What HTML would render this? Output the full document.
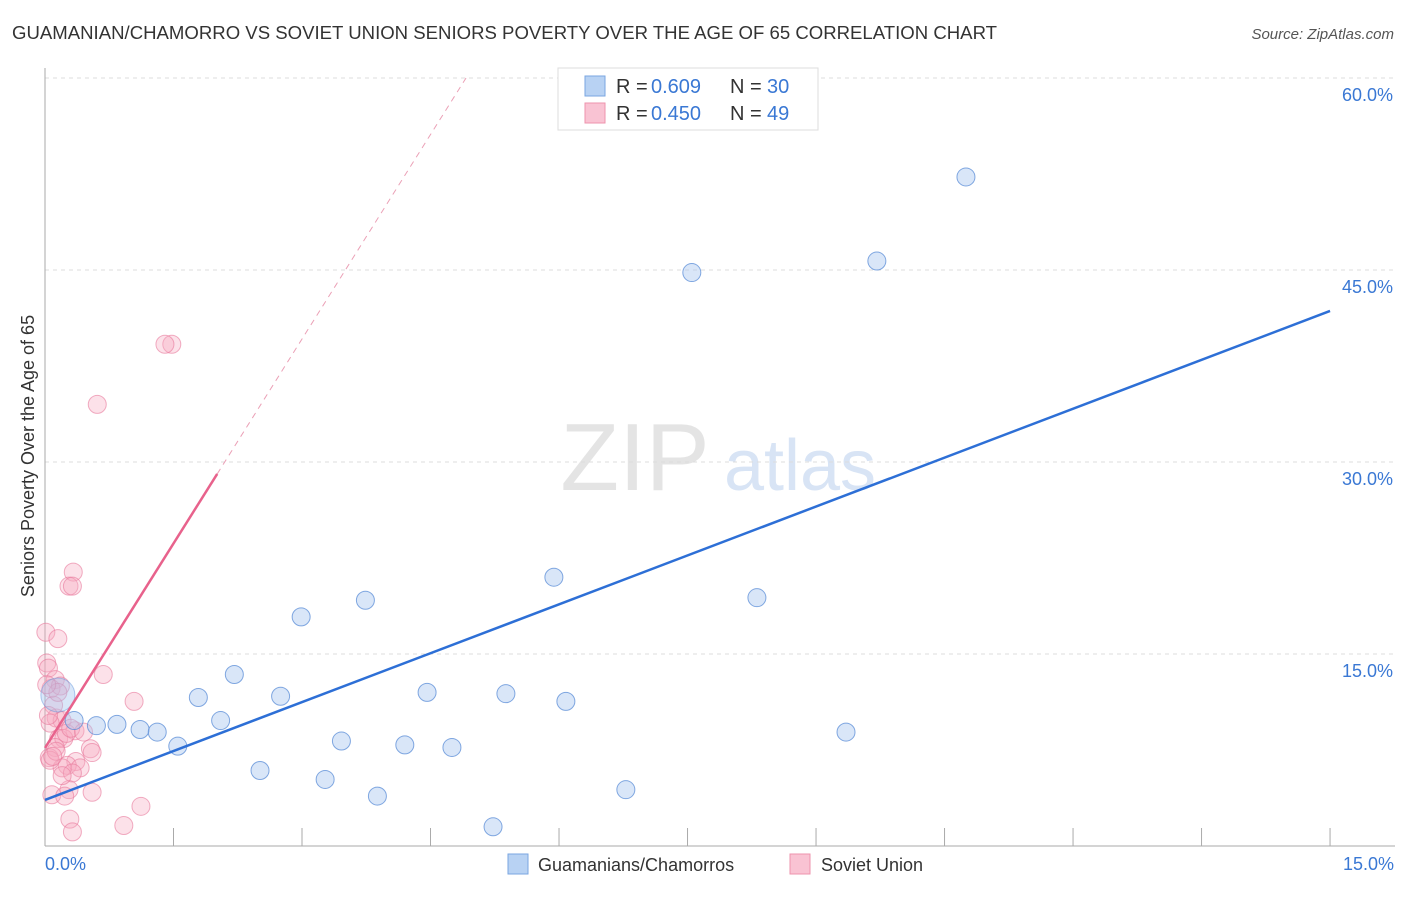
<!DOCTYPE html>
<html><head><meta charset="utf-8"><style>
body{margin:0;background:#fff;font-family:"Liberation Sans",sans-serif}
svg text{font-family:"Liberation Sans",sans-serif}
</style></head><body>
<svg id="c" width="1406" height="892">
<text x="12" y="39" font-size="18" fill="#333" textLength="985" lengthAdjust="spacingAndGlyphs">GUAMANIAN/CHAMORRO VS SOVIET UNION SENIORS POVERTY OVER THE AGE OF 65 CORRELATION CHART</text>
<text x="1394" y="39" font-size="15" fill="#555" font-style="italic" text-anchor="end">Source: ZipAtlas.com</text>
<text x="635" y="490" font-size="96" fill="#e4e4e4" font-family="Liberation Serif" text-anchor="middle">ZIP</text>
<text x="800" y="490" font-size="72" fill="#d8e4f5" text-anchor="middle">atlas</text>
<g id="grid"></g><g id="axes"></g><g id="pts"></g><g id="lines"></g>
<text x="34" y="456" font-size="18" fill="#333" text-anchor="middle" transform="rotate(-90 34 456)">Seniors Poverty Over the Age of 65</text>
<text x="45" y="870" font-size="18" fill="#3a78d4">0.0%</text>
<text x="1394" y="870" font-size="18" fill="#3a78d4" text-anchor="end">15.0%</text>
<g>
<rect x="558" y="68" width="260" height="62" fill="#fff" stroke="#ddd"/>
<rect x="585" y="76" width="20" height="20" fill="#b8d2f3" stroke="#7aa6e0"/>
<rect x="585" y="103" width="20" height="20" fill="#f9c3d3" stroke="#ee93ad"/>
<text x="616" y="93" font-size="20" fill="#333">R =</text><text x="651" y="93" font-size="20" fill="#3a78d4">0.609</text>
<text x="730" y="93" font-size="20" fill="#333">N =</text><text x="767" y="93" font-size="20" fill="#3a78d4">30</text>
<text x="616" y="120" font-size="20" fill="#333">R =</text><text x="651" y="120" font-size="20" fill="#3a78d4">0.450</text>
<text x="730" y="120" font-size="20" fill="#333">N =</text><text x="767" y="120" font-size="20" fill="#3a78d4">49</text>
</g>
<g>
<rect x="508" y="854" width="20" height="20" fill="#b8d2f3" stroke="#7aa6e0"/>
<text x="538" y="871" font-size="18" fill="#333">Guamanians/Chamorros</text>
<rect x="790" y="854" width="20" height="20" fill="#f9c3d3" stroke="#ee93ad"/>
<text x="821" y="871" font-size="18" fill="#333">Soviet Union</text>
</g>
</svg>
<script>
const yTicks=[15,30,45,60];
const yTickLabels=["15.0%","30.0%","45.0%","60.0%"];
const blueX=[10.75,9.71,7.55,5.94,8.31,3.74,2.99,2.21,1.79,2.75,4.46,5.38,6.08,2.05,0.84,0.60,1.11,1.31,9.35,3.46,4.20,4.75,1.55,2.51,3.27,3.88,6.78,5.23,0.34];
const blueY=[52.27,45.7,44.8,21.0,19.4,19.2,17.9,13.4,11.6,11.7,12.0,11.9,11.3,9.8,9.5,9.4,9.1,8.9,8.9,8.2,7.9,7.7,7.8,5.9,5.2,3.9,4.4,1.5,9.8];
const pinkX=[1.48,1.40,0.61,0.33,0.28,0.32,0.01,0.15,0.02,0.04,0.68,0.12,0.07,1.04,0.13,0.20,0.06,0.35,0.16,0.53,0.22,0.12,0.05,0.55,0.36,0.26,0.20,0.41,0.32,0.08,0.28,0.23,0.55,1.12,0.29,0.92,0.32,0.06,0.13,0.10,0.18,0.04,0.25,0.15,0.30,0.09,0.45,0.02,0.20];
const pinkY=[39.2,39.2,34.5,21.4,20.3,20.3,16.7,16.2,14.3,13.9,13.4,13.0,12.3,11.3,10.0,9.8,9.6,9.0,8.4,7.6,8.4,7.7,6.9,7.3,6.6,6.3,6.1,6.1,5.7,4.0,4.4,3.9,4.2,3.1,2.1,1.6,1.1,6.7,7.4,11.0,12.5,10.2,8.8,12.0,9.2,7.0,8.9,12.6,5.5];
const blueTrend=[3.6,41.8];
const pinkTrend=[7.66,10.65];
const X=v=>45+v*85.67, Y=v=>846-v*12.8;
const NS="http://www.w3.org/2000/svg";
function mk(t,a,p){const e=document.createElementNS(NS,t);for(const k in a)e.setAttribute(k,a[k]);p.appendChild(e);return e;}
const grid=document.getElementById('grid'),axes=document.getElementById('axes'),pts=document.getElementById('pts'),lines=document.getElementById('lines');
yTicks.forEach((t,i)=>{
 const l=mk('line',{x1:45,x2:1395,y1:Y(t),y2:Y(t),stroke:'#ddd','stroke-dasharray':'4,4'},grid);
 
 
 const tx=mk('text',{x:1393,y:Y(t)+23,'font-size':18,fill:'#3a78d4','text-anchor':'end'},grid);
 tx.textContent=yTickLabels[i];
 
 
});
const ya=mk('line',{x1:45,x2:45,y1:68,y2:846,stroke:'#aaa'},axes);


const xa=mk('line',{x1:45,x2:1395,y1:846,y2:846,stroke:'#aaa'},axes);


for(let i=1;i<=10;i++){const v=i*1.5;
 const t=mk('line',{x1:X(v),x2:X(v),y1:828,y2:846,stroke:'#aaa'},axes);
 
 
}
pinkX.forEach((v,i)=>{
 const c=mk('circle',{cx:X(v),cy:Y(pinkY[i]),r:9,fill:'rgba(246,170,192,0.35)',stroke:'rgba(232,120,155,0.6)','stroke-width':1},pts);
 
 
});
const big=mk('circle',{cx:X(0.15),cy:Y(11.8),r:17,fill:'rgba(160,195,240,0.4)',stroke:'rgba(100,150,220,0.5)'},pts);


blueX.forEach((v,i)=>{
 const c=mk('circle',{cx:X(v),cy:Y(blueY[i]),r:9,fill:'rgba(170,200,240,0.45)',stroke:'rgba(90,140,215,0.75)','stroke-width':1},pts);
 
 
});
const bl=mk('line',{x1:X(0),y1:Y(blueTrend[0]),x2:X(15),y2:Y(blueTrend[1]),stroke:'#2d6fd6','stroke-width':2.5},lines);


const xe=(60-pinkTrend[0])/pinkTrend[1];
const pd=mk('line',{x1:X(2.01),y1:Y(pinkTrend[0]+pinkTrend[1]*2.01),x2:X(xe),y2:Y(60),stroke:'#eba0b6','stroke-width':1,'stroke-dasharray':'6,5'},lines);


const pl=mk('line',{x1:X(0),y1:Y(pinkTrend[0]),x2:X(2.01),y2:Y(pinkTrend[0]+pinkTrend[1]*2.01),stroke:'#e8628c','stroke-width':2.5},lines);


</script>
</body></html>
